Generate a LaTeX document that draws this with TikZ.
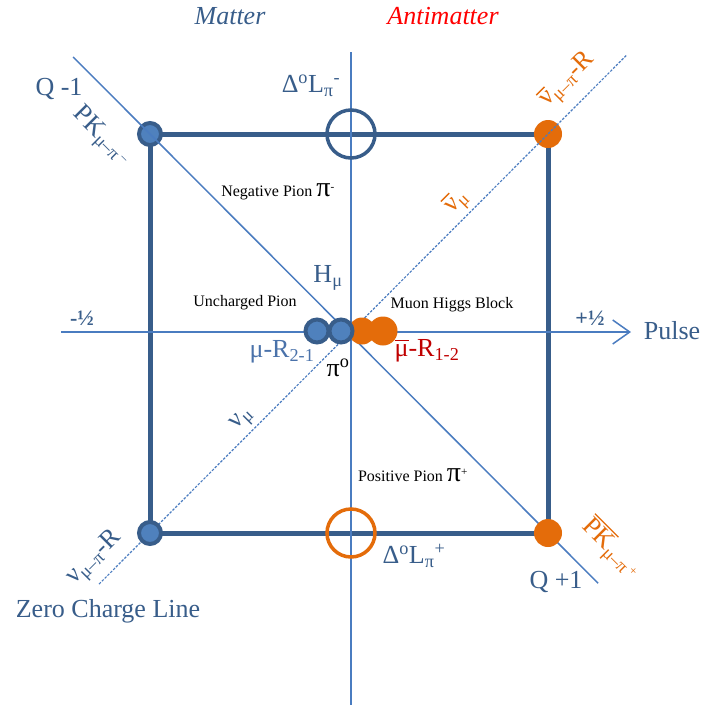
\documentclass[tikz,border=0pt]{standalone}
\usepackage{fontspec}
\setmainfont{Liberation Serif}
\usetikzlibrary{arrows.meta,calc}
\definecolor{dblue}{HTML}{385D8A}
\definecolor{mblue}{HTML}{4F81BD}
\definecolor{lblue}{HTML}{4A7CC0}
\definecolor{murcol}{HTML}{4A72AA}
\definecolor{orng}{HTML}{E46C0A}
\definecolor{brred}{HTML}{FF0000}
\definecolor{dred}{HTML}{C00000}
\newcommand{\fsz}[1]{\fontsize{#1}{#1}\selectfont}
% overline: #1 = gap above the glyph box, #2 = text
\newcommand{\ovl}[2]{\leavevmode\vbox{\hrule height 1.3pt\kern #1\hbox{#2}}}
\tikzset{
  lab/.style={font=\fsz{26}, text=dblue, inner sep=0pt},
  smalltxt/.style={font=\fsz{16}, text=black, inner sep=0pt},
  halftxt/.style={font=\fsz{22}\bfseries, text=dblue, inner sep=0pt},
  sqline/.style={draw=dblue, line width=5pt},
  thin/.style={draw=lblue, line width=1.5pt},
  dashline/.style={draw=lblue, line width=1.2pt, dash pattern=on 2.5pt off 1.5pt},
  bcirc/.style={circle, fill=mblue, draw=dblue, line width=4pt, inner sep=0pt, minimum size=22pt},
  ocirc/.style={circle, fill=orng, inner sep=0pt, minimum size=28pt},
  bring/.style={circle, draw=dblue, line width=3.5pt, inner sep=0pt, minimum size=48pt},
  oring/.style={circle, draw=orng, line width=3.5pt, inner sep=0pt, minimum size=48pt},
}
\begin{document}
\begin{tikzpicture}[x=1pt,y=-1pt]
\useasboundingbox[fill=white] (0,0) rectangle (703,705);
% corners
\coordinate (tl) at (150,134);
\coordinate (tr) at (548,134);
\coordinate (bl) at (150,533);
\coordinate (br) at (548,533);
\coordinate (vt) at (351,52);
\coordinate (vb) at (351,705);
\coordinate (hl) at (61,332);
\coordinate (hr) at (631,332);
\coordinate (d1s) at ($(tl)!-0.193!(br)$);
\coordinate (d1e) at ($(tl)!1.126!(br)$);
\coordinate (d2s) at ($(bl)!-0.128!(tr)$);
\coordinate (d2e) at ($(bl)!1.198!(tr)$);
% square
\draw[sqline] (tl) -- (tr) -- (br) -- (bl) -- cycle;
% top corner circles (under the lines)
\node[bcirc] (ctl) at (tl) {};
\node[ocirc] (ctr) at (tr) {};
% axes and diagonals
\draw[thin] (vt) -- (vb);
\draw[thin, -{Straight Barb[length=17pt,width=24pt]}] (hl) -- (hr);
\draw[thin] (d1s) -- (d1e);
\draw[dashline] (d2s) -- (d2e);
% bottom corner circles
\node[bcirc] (cbl) at (bl) {};
\node[ocirc] (cbr) at (br) {};
% rings
\node[bring] (rtop) at (351,134) {};
\node[oring] (rbot) at (351,533) {};
% centre circles
\node[ocirc, minimum size=29pt] (o2) at (383,331) {};
\node[ocirc, minimum size=27pt] (o1) at (362,331) {};
\node[bcirc, minimum size=23pt] (b1) at (317,331) {};
\node[bcirc, minimum size=23pt] (b2) at (341,331) {};
% labels
\node[lab, font=\fsz{26}\itshape] (matter) at (230,16) {Matter};
\node[lab, font=\fsz{26}\itshape, text=brred] (anti) at (443,16) {Antimatter};
\node[lab] (qm) at (59,89) {Q -1};
\node[lab, rotate=-45] (pk) at (101,137) {PK\textsubscript{μ–π\textsuperscript{ –}}};
\node[lab] (dlt1) at (311,86) {Δ\textsuperscript{o}L\textsubscript{π}\textsuperscript{-}};
\node[lab, text=orng, rotate=45] (nbr) at (568,80) {\ovl{4pt}{ν}\textsubscript{μ–π}-R};
\node[lab, text=orng, rotate=45] (nbm) at (457,202) {\ovl{4pt}{ν}\textsubscript{μ}};
\node[smalltxt] (neg) at (278,192) {Negative Pion {\fsz{28}π}\textsuperscript{-}};
\node[lab] (hmu) at (328,278) {H\textsubscript{μ}};
\node[smalltxt] (unc) at (245,303) {Uncharged Pion};
\node[smalltxt] (mhb) at (452,305) {Muon Higgs Block};
\node[halftxt] (mhalf) at (82,318) {-½};
\node[halftxt] (phalf) at (590,318) {+½};
\node[lab] (pulse) at (672,331) {Pulse};
\node[lab, text=murcol] (mur) at (282,352) {μ-R\textsubscript{2-1}};
\node[lab, text=black] (pio) at (338,368) {π\textsuperscript{o}};
\node[lab, text=dred] (mubr) at (427,351) {\ovl{4pt}{μ}-R\textsubscript{1-2}};
\node[lab, rotate=45] (nmu) at (243,420) {ν\textsubscript{μ}};
\node[smalltxt] (pos) at (413,475) {Positive Pion {\fsz{28}π}\textsuperscript{+}};
\node[lab] (dlt2) at (414,556) {Δ\textsuperscript{o}L\textsubscript{π}\textsuperscript{+}};
\node[lab] (qp) at (556,582) {Q +1};
\node[lab, text=orng, rotate=-45] (pkb) at (611,549) {\ovl{1.5pt}{PK}\textsubscript{μ–π\textsuperscript{ +}}};
\node[lab, rotate=45] (nr) at (95,558) {ν\textsubscript{μ–π}-R};
\node[lab] (zcl) at (108,611) {Zero Charge Line};
\end{tikzpicture}
\end{document}
